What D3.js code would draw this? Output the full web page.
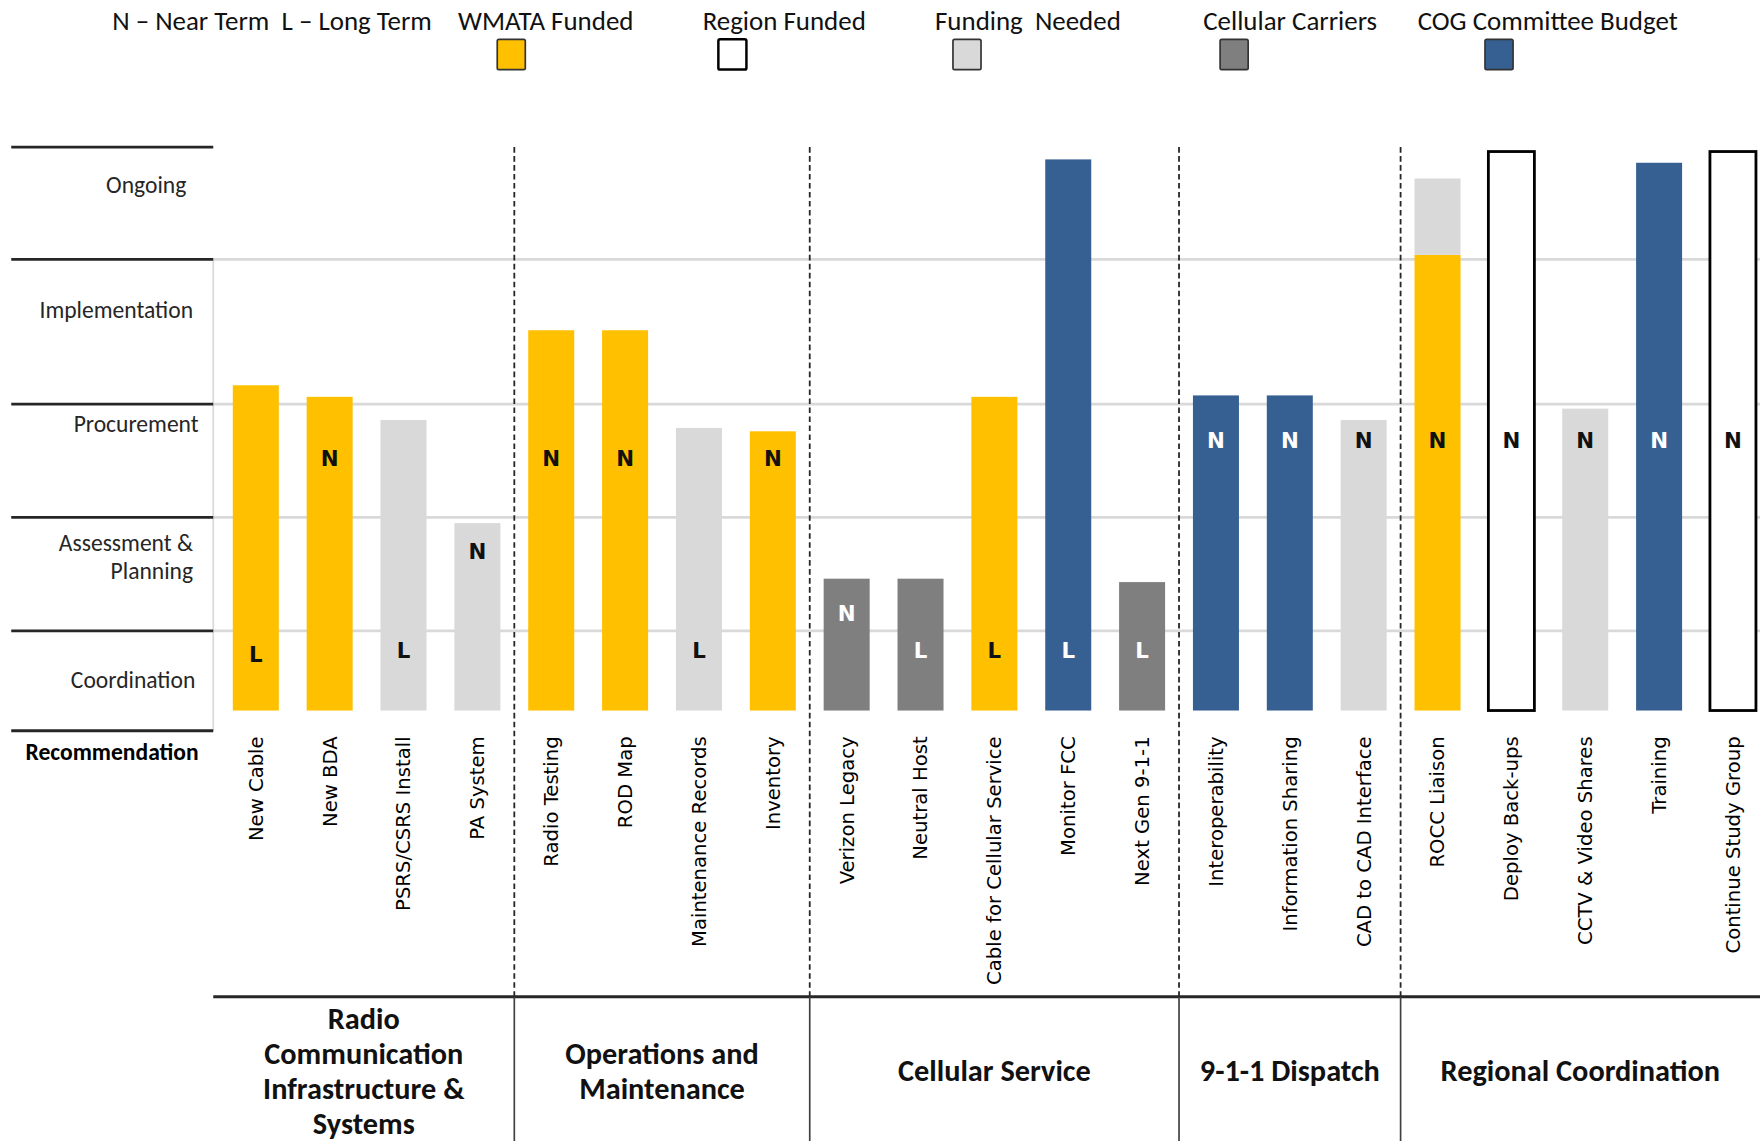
<!DOCTYPE html>
<html>
<head>
<meta charset="utf-8">
<script src="https://cdn.jsdelivr.net/npm/d3@7"></script>
<style>
  body { margin: 0; background: #fff; }
  svg { display: block; }
</style>
</head>
<body>
<div id="chart"></div>
<script>
// recommendations, in drawing order
var recs = ["New Cable", "New BDA", "PSRS/CSRS Install", "PA System",
  "Radio Testing", "ROD Map", "Maintenance Records", "Inventory",
  "Verizon Legacy", "Neutral Host", "Cable for Cellular Service", "Monitor FCC", "Next Gen 9-1-1",
  "Interoperability", "Information Sharing", "CAD to CAD Interface",
  "ROCC Liaison", "Deploy Back-ups", "CCTV & Video Shares", "Training", "Continue Study Group"];

var groupNames = [["Radio", "Communication", "Infrastructure &", "Systems"],
  ["Operations and", "Maintenance"], ["Cellular Service"], ["9-1-1 Dispatch"], ["Regional Coordination"]];
var groupCounts = [4, 4, 5, 3, 5];

// stage scale: 0 = start of Coordination ... 5 = top of Ongoing
var stages = ["Coordination", "Assessment & Planning", "Procurement", "Implementation", "Ongoing"];

var progress = [3.13, 3.05, 2.86, 1.95, 3.51, 3.51, 2.79, 2.76, 1.46, 1.46, 3.05, 4.89, 1.43,
  3.06, 3.06, 2.86, 4.04, 4.96, 2.96, 4.86, 4.96];
var funder = ["wmata", "wmata", "needed", "needed", "wmata", "wmata", "needed", "wmata",
  "carrier", "carrier", "wmata", "cog", "carrier", "cog", "cog", "needed",
  "wmata", "region", "needed", "cog", "region"];
// part still needing funding, stacked on top (ROCC Liaison only)
var neededTop = [null, null, null, null, null, null, null, null, null, null, null, null, null,
  null, null, null, 4.72, null, null, null, null];
var term = ["L", "N", "L", "N", "N", "N", "L", "N", "N", "L", "L", "L", "L",
  "N", "N", "N", "N", "N", "N", "N", "N"];
var termAt = [0.70, 2.52, 0.75, 1.70, 2.52, 2.52, 0.75, 2.52, 1.15, 0.75, 0.75, 0.75, 0.75,
  2.68, 2.68, 2.68, 2.68, 2.68, 2.68, 2.68, 2.68];

var fundKeys = ["wmata", "region", "needed", "carrier", "cog"];
var fundLabels = ["WMATA Funded", "Region Funded", "Funding  Needed", "Cellular Carriers", "COG Committee Budget"];
var fundColors = ["#FFC000", "#FFFFFF", "#D9D9D9", "#7F7F7F", "#376092"];

var W = 1568, H = 1016.5;
var calibri = "Carlito, Calibri, Lato, sans-serif";
var verdana = "Verdana, 'DejaVu Sans', sans-serif";

var color = d3.scaleOrdinal().domain(fundKeys).range(fundColors);

var svg = d3.select("#chart").append("svg")
  .attr("width", 1760).attr("height", 1141)
  .attr("viewBox", "0 0 " + W + " " + H);

var x = d3.scaleBand().domain(recs).range([195, 195 + 21 * 65.8])
  .paddingInner(0.377).paddingOuter(0.1885);
var y = d3.scaleLinear().domain([-0.25, 0, 1, 2, 3, 4, 5])
  .range([651, 633, 562, 461, 360, 231, 131]);

var plotLeft = 190, axisBottom = 888;

// group boundaries
var bounds = [plotLeft], k = 0;
groupCounts.forEach(function (c) { k += c; bounds.push(k < recs.length ? x(recs[k]) - x.step() * x.paddingInner() / 2 : W); });

// gridlines
svg.append("g").selectAll("line").data([1, 2, 3, 4]).enter().append("line")
  .attr("x1", plotLeft).attr("x2", W)
  .attr("y1", function (d) { return y(d); }).attr("y2", function (d) { return y(d); })
  .attr("stroke", "#D9D9D9").attr("stroke-width", 2.5);
svg.append("line").attr("x1", plotLeft).attr("x2", plotLeft)
  .attr("y1", y(4)).attr("y2", y(-0.25))
  .attr("stroke", "#D9D9D9").attr("stroke-width", 1.5);

// left stage table
svg.append("g").selectAll("line").data([5, 4, 3, 2, 1, -0.25]).enter().append("line")
  .attr("x1", 10).attr("x2", plotLeft)
  .attr("y1", function (d) { return y(d); }).attr("y2", function (d) { return y(d); })
  .attr("stroke", "#262626").attr("stroke-width", 2.5);

var stageLabelAt = [0.39, 1.65, 2.83, 3.65, 4.66];
var stageRight = [174, 172, 177, 172, 166];
var stageText = svg.append("g").selectAll("text").data(stages).enter().append("text")
  .attr("text-anchor", "end")
  .attr("font-family", calibri).attr("font-size", 21).attr("fill", "#262626")
  .attr("transform", function (d, i) { return "translate(" + stageRight[i] + "," + y(stageLabelAt[i]) + ")"; });
stageText.each(function (d) {
  var parts = d === "Assessment & Planning" ? ["Assessment &", "Planning"] : [d];
  var t = d3.select(this);
  parts.forEach(function (p, j) {
    t.append("tspan").attr("x", 0)
      .attr("y", (j - (parts.length - 1) / 2) * 25)
      .attr("dy", "0.35em").text(p);
  });
});
svg.append("text").attr("x", 177).attr("y", 670).attr("dy", "0.35em")
  .attr("text-anchor", "end").attr("font-family", calibri).attr("font-weight", "bold")
  .attr("font-size", 21).attr("fill", "#000").text("Recommendation");

// dashed dividers between groups
svg.append("g").selectAll("line").data(bounds.slice(1, -1)).enter().append("line")
  .attr("x1", function (d) { return d; }).attr("x2", function (d) { return d; })
  .attr("y1", y(5)).attr("y2", axisBottom)
  .attr("stroke", "#262626").attr("stroke-width", 1.6).attr("stroke-dasharray", "5,3");

// bars
var bars = svg.append("g");
bars.selectAll("rect.main").data(recs).enter().append("rect")
  .attr("class", "main")
  .attr("x", function (d) { return x(d); })
  .attr("width", x.bandwidth())
  .attr("y", function (d, i) { return y(progress[i]); })
  .attr("height", function (d, i) { return y(0) - y(progress[i]); })
  .attr("fill", function (d, i) { return color(funder[i]); })
  .attr("stroke", function (d, i) { return funder[i] === "region" ? "#000" : "none"; })
  .attr("stroke-width", 2.5);
bars.selectAll("rect.need").data(recs.filter(function (d, i) { return neededTop[i] != null; }))
  .enter().append("rect")
  .attr("class", "need")
  .attr("x", function (d) { return x(d); })
  .attr("width", x.bandwidth())
  .attr("y", function (d) { var i = recs.indexOf(d); return y(neededTop[i]); })
  .attr("height", function (d) { var i = recs.indexOf(d); return y(progress[i]) - y(neededTop[i]); })
  .attr("fill", color("needed"));

// N / L markers
svg.append("g").selectAll("text").data(recs).enter().append("text")
  .attr("x", function (d) { return x(d) + x.bandwidth() / 2; })
  .attr("y", function (d, i) { return y(termAt[i]); })
  .attr("dy", "0.36em").attr("text-anchor", "middle")
  .attr("font-family", verdana).attr("font-weight", "bold").attr("font-size", 19)
  .attr("fill", function (d, i) { return (funder[i] === "cog" || funder[i] === "carrier") ? "#fff" : "#111"; })
  .text(function (d, i) { return term[i]; });

// rotated recommendation names
svg.append("g").selectAll("text").data(recs).enter().append("text")
  .attr("transform", function (d) { return "translate(" + (x(d) + x.bandwidth() / 2) + ",656) rotate(-90)"; })
  .attr("dy", "0.35em").attr("text-anchor", "end")
  .attr("font-family", verdana).attr("font-size", 17.5).attr("fill", "#000")
  .text(function (d) { return d; });

// group table at the bottom
svg.append("line").attr("x1", plotLeft).attr("x2", W).attr("y1", axisBottom).attr("y2", axisBottom)
  .attr("stroke", "#262626").attr("stroke-width", 2.5);
svg.append("g").selectAll("line").data(bounds.slice(1, -1)).enter().append("line")
  .attr("x1", function (d) { return d; }).attr("x2", function (d) { return d; })
  .attr("y1", axisBottom).attr("y2", H)
  .attr("stroke", "#404040").attr("stroke-width", 1.5);
var gl = svg.append("g").selectAll("text").data(groupNames).enter().append("text")
  .attr("text-anchor", "middle")
  .attr("font-family", calibri).attr("font-weight", "bold").attr("font-size", 27).attr("fill", "#111")
  .attr("transform", function (d, i) { return "translate(" + (bounds[i] + bounds[i + 1]) / 2 + ",954)"; });
gl.each(function (d) {
  var t = d3.select(this);
  d.forEach(function (line, j) {
    t.append("tspan").attr("x", 0).attr("y", (j - (d.length - 1) / 2) * 31)
      .attr("dy", "0.35em").text(line);
  });
});

// legend
svg.append("text").attr("x", 100).attr("y", 18).attr("dy", "0.35em")
  .attr("font-family", calibri).attr("font-size", 24).attr("fill", "#111")
  .attr("xml:space", "preserve")
  .text("N \u2013 Near Term  L \u2013 Long Term");
var legendTextX = [408, 626, 833, 1072, 1263];
var legendBoxX = [443, 640, 849, 1087, 1323];
var lg = svg.append("g").selectAll("g").data(fundKeys).enter().append("g");
lg.append("text")
  .attr("x", function (d, i) { return legendTextX[i]; }).attr("y", 18).attr("dy", "0.35em")
  .attr("font-family", calibri).attr("font-size", 24).attr("fill", "#111")
  .attr("xml:space", "preserve")
  .text(function (d, i) { return fundLabels[i]; });
lg.append("rect")
  .attr("x", function (d, i) { return legendBoxX[i]; }).attr("y", 35)
  .attr("width", 25).attr("height", 27).attr("rx", 1.5)
  .attr("fill", function (d) { return color(d); })
  .attr("stroke", function (d) { return d === "region" ? "#000" : "#333"; })
  .attr("stroke-width", function (d) { return d === "region" ? 2.2 : 1.5; });
</script>
</body>
</html>
